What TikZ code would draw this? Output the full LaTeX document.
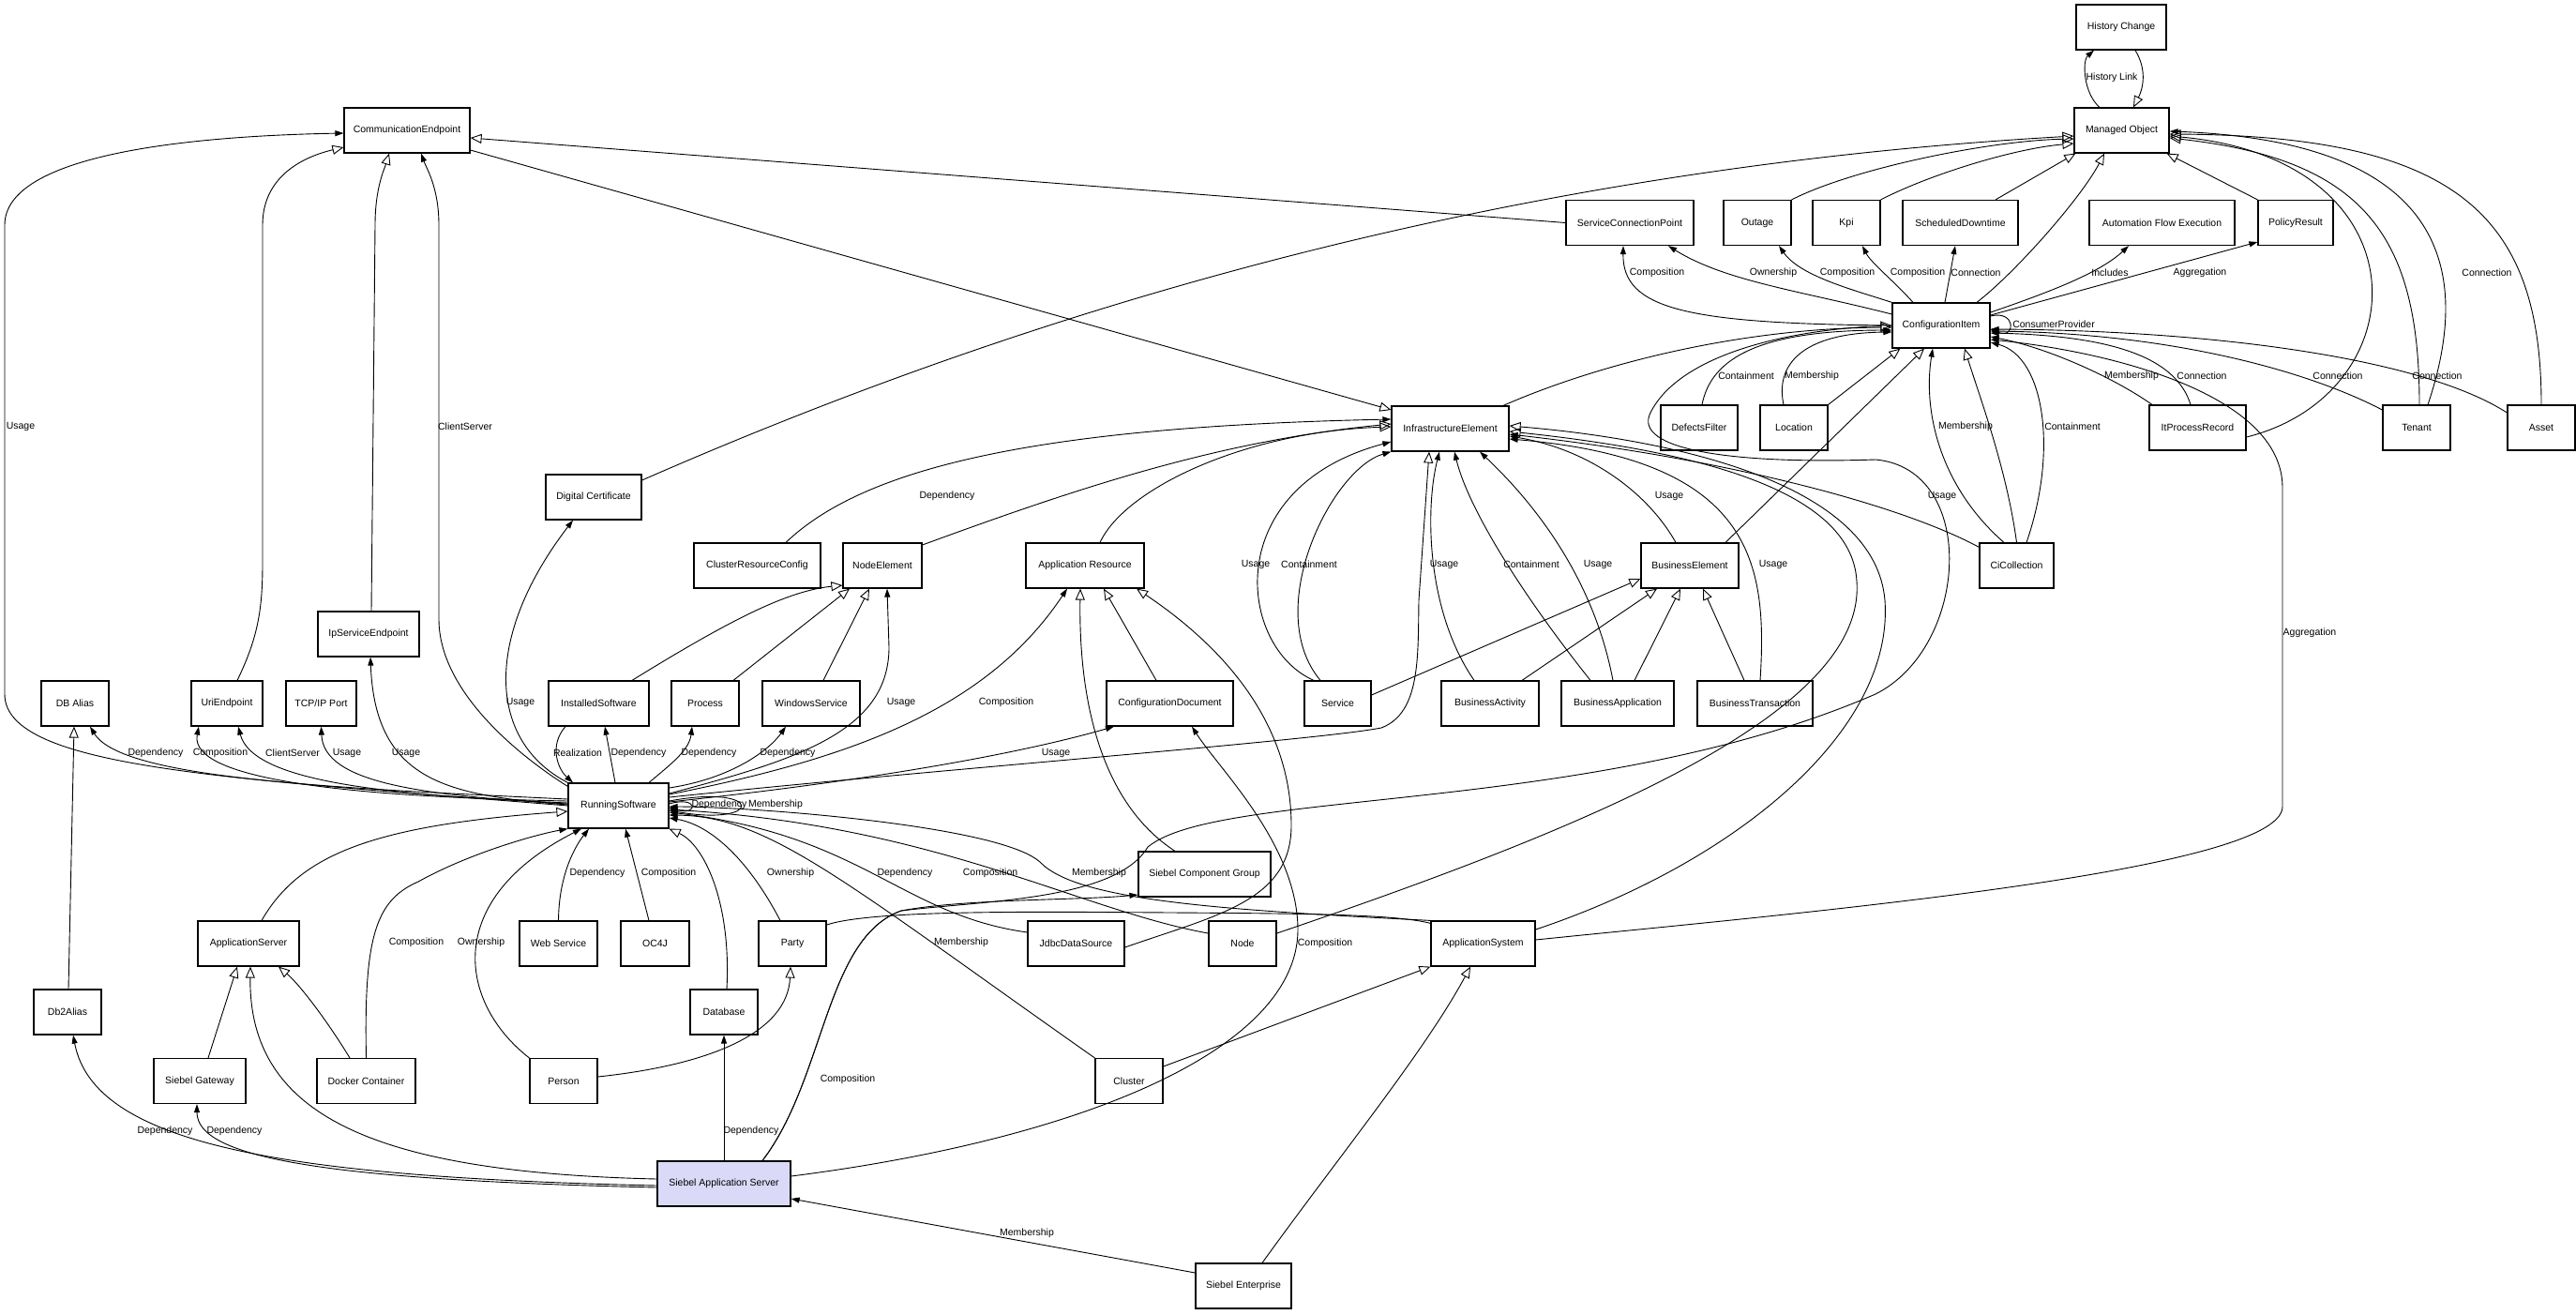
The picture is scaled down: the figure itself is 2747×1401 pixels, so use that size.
\documentclass[tikz,border=0pt]{standalone}
\usepackage{fontspec}
\setmainfont{Liberation Sans}
\usepackage{tikz}
\usetikzlibrary{arrows.meta}
\definecolor{sibfill}{RGB}{218,218,248}

\begin{document}
\begin{tikzpicture}[x=1pt,y=-1pt,
  box/.style={draw, line width=1.2pt, fill=white, minimum height=48pt, inner sep=0pt, font=\fontsize{10.5}{12}\selectfont},
  gen/.style={line width=0.9pt, -{Triangle[open,length=12pt,width=10pt]}},
  assoc/.style={line width=0.9pt, -{Triangle[length=9pt,width=6pt]}},
  lbl/.style={font=\fontsize{10.5}{12}\selectfont, inner sep=1pt}]
\path[use as bounding box, fill=white] (0,0) rectangle (2747,1401);

% nodes
\node[box, minimum width=96pt] (histchange) at (2262,29) {History Change};
\node[box, minimum width=101pt] (managedobj) at (2262.5,139) {Managed Object};
\node[box, minimum width=134pt] (commep) at (434,139) {CommunicationEndpoint};
\node[box, minimum width=136pt] (servcp) at (1738,237.5) {ServiceConnectionPoint};
\node[box, minimum width=72pt] (outage) at (1874,237.5) {Outage};
\node[box, minimum width=72pt] (kpi) at (1969,237.5) {Kpi};
\node[box, minimum width=123pt] (schdown) at (2090.5,237.5) {ScheduledDowntime};
\node[box, minimum width=155pt] (autoflow) at (2305.5,237.5) {Automation Flow Execution};
\node[box, minimum width=80pt] (policyres) at (2448,237.5) {PolicyResult};
\node[box, minimum width=104pt] (confitem) at (2070,347) {ConfigurationItem};
\node[box, minimum width=125pt] (infraelem) at (1546.5,457) {InfrastructureElement};
\node[box, minimum width=82pt] (defects) at (1812,456) {DefectsFilter};
\node[box, minimum width=72pt] (location) at (1913,456) {Location};
\node[box, minimum width=103pt] (itproc) at (2343.5,456) {ItProcessRecord};
\node[box, minimum width=72pt] (tenant) at (2577,456) {Tenant};
\node[box, minimum width=72pt] (asset) at (2710,456) {Asset};
\node[box, minimum width=102pt] (digicert) at (633,530) {Digital Certificate};
\node[box, minimum width=135pt] (clusterres) at (807.5,603) {ClusterResourceConfig};
\node[box, minimum width=84pt] (nodeelem) at (941,603) {NodeElement};
\node[box, minimum width=126pt] (appres) at (1157,603) {Application Resource};
\node[box, minimum width=104pt] (buselem) at (1802,603) {BusinessElement};
\node[box, minimum width=79pt] (cicoll) at (2150.5,603) {CiCollection};
\node[box, minimum width=108pt] (ipservep) at (393,676) {IpServiceEndpoint};
\node[box, minimum width=72pt] (dbalias) at (80,750) {DB Alias};
\node[box, minimum width=76pt] (uriep) at (242,750) {UriEndpoint};
\node[box, minimum width=75pt] (tcpport) at (342.5,750) {TCP/IP Port};
\node[box, minimum width=107pt] (instsw) at (638.5,750) {InstalledSoftware};
\node[box, minimum width=72pt] (process) at (752,750) {Process};
\node[box, minimum width=104pt] (winserv) at (865,750) {WindowsService};
\node[box, minimum width=135pt] (confdoc) at (1247.5,750) {ConfigurationDocument};
\node[box, minimum width=71pt] (service) at (1426.5,750) {Service};
\node[box, minimum width=104pt] (busact) at (1589,750) {BusinessActivity};
\node[box, minimum width=120pt] (busapp) at (1725,750) {BusinessApplication};
\node[box, minimum width=123pt] (bustrans) at (1871.5,750) {BusinessTransaction};
\node[box, minimum width=107pt] (runsw) at (659.5,859) {RunningSoftware};
\node[box, minimum width=141pt] (sibcompgrp) at (1284.5,932) {Siebel Component Group};
\node[box, minimum width=108pt] (appserver) at (265,1006) {ApplicationServer};
\node[box, minimum width=83pt] (websvc) at (595.5,1006) {Web Service};
\node[box, minimum width=73pt] (oc4j) at (698.5,1006) {OC4J};
\node[box, minimum width=72pt] (party) at (845,1006) {Party};
\node[box, minimum width=103pt] (jdbcds) at (1147.5,1006) {JdbcDataSource};
\node[box, minimum width=72pt] (node) at (1325,1006) {Node};
\node[box, minimum width=111pt] (appsys) at (1581.5,1006) {ApplicationSystem};
\node[box, minimum width=72pt] (db2alias) at (72,1079) {Db2Alias};
\node[box, minimum width=72pt] (database) at (772,1079) {Database};
\node[box, minimum width=98pt] (sibgateway) at (213,1152.5) {Siebel Gateway};
\node[box, minimum width=105pt] (docker) at (390.5,1152.5) {Docker Container};
\node[box, minimum width=72pt] (person) at (601,1152.5) {Person};
\node[box, minimum width=72pt] (cluster) at (1204,1152.5) {Cluster};
\node[box, minimum width=142pt, fill=sibfill] (sibappsrv) at (772,1262) {Siebel Application Server};
\node[box, minimum width=102pt] (sibent) at (1326,1371) {Siebel Enterprise};

% managed object
\draw[assoc] ([xshift=-23.5pt]managedobj.north) .. controls (2222,100) and (2220,65) .. ([xshift=-29pt]histchange.south) node[lbl] at (2252,83) {History Link};
\draw[gen] ([xshift=15pt]histchange.south) .. controls (2290,75) and (2285,95) .. ([xshift=12.5pt]managedobj.north);
\draw[gen] (outage.north east) .. controls (1975,180) and (2120,150) .. ([yshift=-9pt]managedobj.west);
\draw[gen] (kpi.north east) .. controls (2060,185) and (2150,158) .. ([yshift=-14pt]managedobj.west);
\draw[gen] ([xshift=37.5pt]schdown.north) -- ([xshift=2pt]managedobj.south west);
\draw[gen] ([xshift=38pt]confitem.north) .. controls (2150,290) and (2220,210) .. ([xshift=-18.5pt]managedobj.south);
\draw[gen] (policyres.north west) -- ([xshift=-3pt]managedobj.south east);
\draw[gen] ([yshift=18pt]digicert.east) .. controls (1100,330) and (1600,180) .. ([yshift=-6pt]managedobj.west);
\draw[gen] ([yshift=-10pt]itproc.east) .. controls (2580,420) and (2590,170) .. ([yshift=-6pt]managedobj.east);
\draw[gen] ([xshift=3pt]tenant.north) .. controls (2580,250) and (2520,170) .. ([yshift=-8pt]managedobj.east);
\draw[assoc] ([xshift=12pt]tenant.north) .. controls (2640,280) and (2600,150) .. ([yshift=-1pt]managedobj.east) node[lbl] at (2652,291) {Connection};
\draw[gen] (asset.north) .. controls (2710,230) and (2620,145) .. ([yshift=-4pt]managedobj.east);

% communication endpoint
\draw[gen] (servcp.west) -- ([yshift=-8pt]commep.east);
\draw[gen] ([yshift=-21pt]commep.east) -- ([yshift=20pt]infraelem.west);
\draw[gen] ([xshift=11pt]uriep.north) .. controls (275,680) and (280,650) .. (280,600) -- (280,240) .. controls (280,190) and (320,168) .. ([yshift=-18pt]commep.west);
\draw[gen] ([xshift=3pt]ipservep.north) -- (400,240) .. controls (400,200) and (410,180) .. ([xshift=-19pt]commep.south);
\draw[assoc] ([yshift=-4pt]runsw.north west) .. controls (560,810) and (468,740) .. (468,660) -- (468,240) .. controls (468,200) and (455,180) .. ([xshift=15pt]commep.south) node[lbl] at (496,455) {ClientServer};
\draw[assoc] (runsw.west) .. controls (250,830) and (5,820) .. (5,740) -- (5,240) .. controls (5,165) and (200,145) .. ([yshift=-3pt]commep.west) node[lbl] at (22,455) {Usage};

% configuration item
\draw[gen] ([xshift=56.5pt]infraelem.north) .. controls (1700,390) and (1850,350) .. ([yshift=-2pt]confitem.west);
\draw[assoc] ([xshift=3pt]defects.north) .. controls (1825,380) and (1880,352) .. ([yshift=-5pt]confitem.west) node[lbl] at (1862,401) {Containment};
\draw[assoc] ([xshift=-11pt]location.north) .. controls (1893,390) and (1920,355) .. ([yshift=-7pt]confitem.west) node[lbl] at (1932,401) {Membership};
\draw[gen] (location.north east) -- ([xshift=9pt]confitem.south west);
\draw[gen] ([xshift=38pt]buselem.north) -- ([xshift=-18pt]confitem.south);
\draw[gen] (cicoll.north) .. controls (2140,500) and (2110,420) .. ([xshift=25pt]confitem.south);
\draw[assoc] ([xshift=-13.5pt]cicoll.north) .. controls (2070,520) and (2050,440) .. ([xshift=-9pt]confitem.south) node[lbl] at (2096,455) {Membership};
\draw[assoc] ([xshift=10.5pt]cicoll.north) .. controls (2195,480) and (2180,380) .. ([yshift=-18pt]confitem.east) node[lbl] at (2210,455) {Containment};
\draw[assoc] ([yshift=-5pt]cicoll.north west) .. controls (2030,540) and (1850,490) .. ([yshift=-6pt]infraelem.east) node[lbl] at (2071,529) {Usage};
\draw[assoc] (confitem.west) .. controls (1800,345) and (1730,330) .. ([xshift=-7pt]servcp.south) node[lbl] at (1767,291) {Composition};
\draw[assoc] ([yshift=12pt]confitem.west) .. controls (1920,310) and (1840,300) .. ([xshift=41pt]servcp.south) node[lbl] at (1891,291) {Ownership};
\draw[assoc] (confitem.north west) .. controls (1980,310) and (1920,295) .. ([xshift=23pt]outage.south) node[lbl] at (1970,291) {Composition};
\draw[assoc] ([xshift=-30pt]confitem.north) .. controls (2020,300) and (1995,280) .. ([xshift=17pt]kpi.south) node[lbl] at (2045,291) {Composition};
\draw[assoc] ([xshift=4pt]confitem.north) -- ([xshift=-5.5pt]schdown.south) node[lbl] at (2107,291) {Connection};
\draw[assoc] ([yshift=14pt]confitem.east) .. controls (2190,310) and (2240,290) .. ([xshift=-35.5pt]autoflow.south) node[lbl] at (2250,291) {Includes};
\draw[assoc] ([yshift=11pt]confitem.east) -- ([yshift=-20.5pt]policyres.west) node[lbl] at (2346,291) {Aggregation};
\draw[assoc] ([yshift=10pt]confitem.east) .. controls (2150,330) and (2150,362) .. ([yshift=-4pt]confitem.east) node[lbl] at (2190,346) {ConsumerProvider};
\draw[assoc] ([xshift=-48.5pt]itproc.north) .. controls (2250,400) and (2180,370) .. ([yshift=-12pt]confitem.east) node[lbl] at (2273,401) {Membership};
\draw[assoc] ([xshift=-7.5pt]itproc.north) .. controls (2320,380) and (2250,358) .. ([yshift=-8pt]confitem.east) node[lbl] at (2348,401) {Connection};
\draw[assoc] ([yshift=19pt]tenant.west) .. controls (2450,390) and (2300,355) .. ([yshift=-6pt]confitem.east) node[lbl] at (2493,401) {Connection};
\draw[assoc] ([yshift=16pt]asset.west) .. controls (2580,380) and (2350,352) .. ([yshift=-4pt]confitem.east) node[lbl] at (2599,401) {Connection};
\draw[assoc] ([yshift=4pt]appsys.east) .. controls (1900,975) and (2434,930) .. (2434,860) -- (2434,520) .. controls (2434,420) and (2250,375) .. ([yshift=-15pt]confitem.east) node[lbl] at (2463,675) {Aggregation};

% infrastructure element
\draw[assoc] ([xshift=30.5pt]clusterres.north) .. controls (920,500) and (1100,455) .. ([yshift=10pt]infraelem.west) node[lbl] at (1010,529) {Dependency};
\draw[gen] ([yshift=22pt]nodeelem.east) .. controls (1150,520) and (1300,470) .. ([yshift=5pt]infraelem.west);
\draw[gen] ([xshift=16pt]appres.north) .. controls (1200,520) and (1330,460) .. ([yshift=2pt]infraelem.west);
\draw[assoc] ([xshift=-25.5pt]service.north) .. controls (1320,690) and (1300,520) .. ([yshift=-14pt]infraelem.west) node[lbl] at (1339,602) {Usage};
\draw[assoc] ([xshift=-18.5pt]service.north) .. controls (1345,650) and (1420,500) .. (infraelem.south west) node[lbl] at (1396,602) {Containment};
\draw[assoc] ([xshift=-17pt]busact.north) .. controls (1520,650) and (1520,540) .. ([xshift=-11.5pt]infraelem.south) node[lbl] at (1540,602) {Usage};
\draw[assoc] ([xshift=-29pt]busapp.north) .. controls (1620,630) and (1565,540) .. ([xshift=4.5pt]infraelem.south) node[lbl] at (1633,602) {Containment};
\draw[assoc] ([xshift=-5pt]busapp.north) .. controls (1700,620) and (1640,540) .. ([xshift=31.5pt]infraelem.south) node[lbl] at (1704,602) {Usage};
\draw[assoc] ([xshift=-15pt]buselem.north) .. controls (1760,530) and (1700,480) .. ([yshift=-8pt]infraelem.east) node[lbl] at (1780,529) {Usage};
\draw[assoc] ([xshift=5.5pt]bustrans.north) .. controls (1885,600) and (1870,490) .. ([yshift=-11pt]infraelem.east) node[lbl] at (1891,602) {Usage};
\draw[gen] ([yshift=11pt]node.east) .. controls (1700,880) and (1990,760) .. (1980,620) .. controls (1975,520) and (1800,480) .. ([yshift=-3pt]infraelem.east);
\draw[gen] ([yshift=15pt]appsys.east) .. controls (1850,920) and (2020,780) .. (2010,640) .. controls (2000,520) and (1800,470) .. ([yshift=3pt]infraelem.east);
\draw[gen] ([yshift=9pt]runsw.east) .. controls (1000,820) and (1400,790) .. (1473,776) .. controls (1515,760) and (1512,700) .. (1513,640) -- ([xshift=-22.5pt]infraelem.south);
\draw[gen] ([yshift=9pt]service.east) -- ([yshift=-14pt]buselem.west);
\draw[gen] ([xshift=34pt]busact.north) -- ([xshift=-35pt]buselem.south);
\draw[gen] ([xshift=18pt]busapp.north) -- ([xshift=-10pt]buselem.south);
\draw[gen] ([xshift=-11.5pt]bustrans.north) -- ([xshift=14pt]buselem.south);

% application resource, node element
\draw[gen] ([xshift=41pt]sibappsrv.north) .. controls (880,1150) and (880,1000) .. (961,971) .. controls (1050,960) and (1190,960) .. (1224,903) .. controls (1300,840) and (1700,870) .. (2000,740) .. controls (2100,690) and (2110,500) .. (2000,490) .. controls (1850,495) and (1740,480) .. (1760,440) .. controls (1790,380) and (1900,352) .. (confitem.west);
\draw[assoc] ([xshift=41pt]sibappsrv.north) .. controls (880,1150) and (880,1000) .. (961,971) .. controls (1030,958) and (1150,960) .. ([yshift=-22pt]sibcompgrp.west) node[lbl] at (904,1151) {Composition};
\draw[assoc] ([yshift=8pt]sibappsrv.east) .. controls (1150,1215) and (1385,1120) .. (1384,990) .. controls (1383,900) and (1300,820) .. ([xshift=23.5pt]confdoc.south) node[lbl] at (1413,1006) {Composition};
\draw[gen] ([yshift=-4pt]jdbcds.east) .. controls (1300,975) and (1377,960) .. (1377,880) .. controls (1377,760) and (1290,680) .. ([xshift=55pt]appres.south);
\draw[gen] ([xshift=-31.5pt]sibcompgrp.north) .. controls (1180,860) and (1150,760) .. ([xshift=-5pt]appres.south);
\draw[gen] ([xshift=-14.5pt]confdoc.north) -- ([xshift=20pt]appres.south);
\draw[gen] ([xshift=35.5pt]instsw.north) .. controls (780,660) and (840,630) .. ([yshift=-21pt]nodeelem.west);
\draw[gen] ([xshift=30pt]process.north) -- ([xshift=-35pt]nodeelem.south);
\draw[gen] ([xshift=13pt]winserv.north) -- ([xshift=-14pt]nodeelem.south);

% running software
\draw[assoc] ([yshift=7pt]runsw.west) .. controls (350,840) and (130,830) .. ([xshift=16pt]dbalias.south) node[lbl] at (166,803) {Dependency};
\draw[assoc] ([yshift=5pt]runsw.west) .. controls (400,850) and (200,835) .. ([xshift=-30pt]uriep.south) node[lbl] at (235,803) {Composition};
\draw[assoc] ([yshift=3pt]runsw.west) .. controls (420,848) and (270,835) .. ([xshift=12pt]uriep.south) node[lbl] at (312,803) {ClientServer};
\draw[assoc] ([yshift=2pt]runsw.west) .. controls (450,848) and (345,835) .. (tcpport.south) node[lbl] at (370,803) {Usage};
\draw[assoc] ([yshift=1pt]runsw.west) .. controls (480,848) and (400,835) .. ([xshift=2pt]ipservep.south) node[lbl] at (433,803) {Usage};
\draw[assoc] (runsw.north west) .. controls (520,790) and (515,680) .. ([xshift=-22pt]digicert.south) node[lbl] at (555,749) {Usage};
\draw[assoc] ([xshift=-35.5pt]instsw.south) .. controls (585,795) and (595,820) .. ([xshift=-48.5pt]runsw.north) node[lbl] at (616,803) {Realization};
\draw[assoc] ([xshift=-3.5pt]runsw.north) -- ([xshift=6.5pt]instsw.south) node[lbl] at (681,803) {Dependency};
\draw[assoc] ([xshift=32.5pt]runsw.north) .. controls (715,815) and (735,800) .. ([xshift=-14pt]process.south) node[lbl] at (756,803) {Dependency};
\draw[assoc] ([yshift=19pt]runsw.east) .. controls (780,830) and (820,800) .. ([xshift=-27pt]winserv.south) node[lbl] at (840,803) {Dependency};
\draw[assoc] ([yshift=13pt]runsw.east) .. controls (850,810) and (948,780) .. (948,690) -- ([xshift=5pt]nodeelem.south) node[lbl] at (961,749) {Usage};
\draw[assoc] ([yshift=12pt]runsw.east) .. controls (900,810) and (1050,760) .. ([xshift=-19pt]appres.south) node[lbl] at (1073,749) {Composition};
\draw[assoc] ([yshift=4pt]runsw.east) .. controls (950,830) and (1100,800) .. ([xshift=-59.5pt]confdoc.south) node[lbl] at (1126,803) {Usage};
\draw[assoc] ([yshift=5pt]runsw.east) .. controls (815,835) and (815,882) .. ([yshift=-5pt]runsw.east) node[lbl] at (767,858) {Dependency};
\draw[assoc] ([yshift=2pt]runsw.east) .. controls (745,848) and (745,870) .. ([yshift=-2pt]runsw.east) node[lbl] at (827,858) {Membership};
\draw[gen] ([xshift=14pt]appserver.north) .. controls (320,910) and (400,880) .. ([yshift=-6pt]runsw.west);
\draw[assoc] (docker.north) .. controls (388,1000) and (400,960) .. (446,940) .. controls (500,910) and (570,890) .. (runsw.south west) node[lbl] at (444,1005) {Composition};
\draw[assoc] (person.north west) .. controls (490,1070) and (470,960) .. ([xshift=-39.5pt]runsw.south) node[lbl] at (513,1005) {Ownership};
\draw[assoc] (websvc.north) .. controls (596,930) and (615,900) .. ([xshift=-31.5pt]runsw.south) node[lbl] at (637,931) {Dependency};
\draw[assoc] ([xshift=-6.5pt]oc4j.north) -- ([xshift=7.5pt]runsw.south) node[lbl] at (713,931) {Composition};
\draw[gen] ([xshift=3pt]database.north) .. controls (780,960) and (750,900) .. (runsw.south east);
\draw[assoc] ([xshift=-13pt]party.north) .. controls (800,920) and (760,880) .. ([yshift=-13pt]runsw.east) node[lbl] at (843,931) {Ownership};
\draw[assoc] (cluster.north west) .. controls (900,940) and (820,870) .. ([yshift=-10pt]runsw.east) node[lbl] at (1025,1005) {Membership};
\draw[assoc] ([yshift=12pt]jdbcds.west) .. controls (960,975) and (920,890) .. ([yshift=-7pt]runsw.east) node[lbl] at (965,931) {Dependency};
\draw[assoc] ([yshift=11pt]node.west) .. controls (1150,970) and (1000,880) .. ([yshift=-4pt]runsw.east) node[lbl] at (1056,931) {Composition};
\draw[assoc] (appsys.north west) .. controls (1300,970) and (1150,960) .. (1110,920) .. controls (1070,880) and (800,860) .. ([yshift=-1pt]runsw.east) node[lbl] at (1172,931) {Membership};
\draw[line width=0.9pt] ([yshift=20pt]party.east) .. controls (930,970) and (1100,972) .. (1250,973) .. controls (1400,974) and (1490,975) .. ([yshift=-3pt]appsys.north west);

% siebel application server
\draw[gen] ([xshift=9pt]sibgateway.north) -- ([xshift=-12pt]appserver.south);
\draw[gen] ([xshift=-17.5pt]docker.north) .. controls (350,1090) and (320,1050) .. ([xshift=32pt]appserver.south);
\draw[gen] ([yshift=5pt]sibappsrv.west) .. controls (400,1250) and (265,1190) .. ([xshift=2pt]appserver.south);
\draw[assoc] ([yshift=-2pt]sibappsrv.west) .. controls (300,1255) and (100,1220) .. ([xshift=6pt]db2alias.south) node[lbl] at (176,1206) {Dependency};
\draw[assoc] ([yshift=-4pt]sibappsrv.west) .. controls (350,1258) and (210,1235) .. ([xshift=-3pt]sibgateway.south) node[lbl] at (250,1206) {Dependency};
\draw[assoc] (sibappsrv.north) -- (database.south) node[lbl] at (801,1206) {Dependency};
\draw[assoc] ([yshift=14pt]sibent.west) -- ([yshift=-16pt]sibappsrv.east) node[lbl] at (1095,1315) {Membership};
\draw[gen] ([xshift=20pt]sibent.north) .. controls (1430,1230) and (1520,1120) .. ([xshift=-13.5pt]appsys.south);
\draw[gen] ([yshift=15.5pt]cluster.east) -- (appsys.south west);
\draw[gen] ([yshift=4.5pt]person.east) .. controls (760,1135) and (840,1100) .. ([xshift=-2pt]party.south);
\draw[gen] ([xshift=1pt]db2alias.north) -- ([xshift=-1pt]dbalias.south);
\end{tikzpicture}
\end{document}
